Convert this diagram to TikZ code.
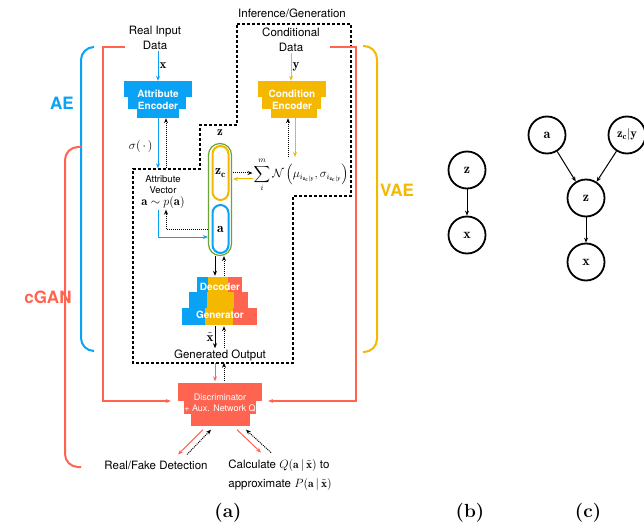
\documentclass[tikz,border=0pt]{standalone}
\usepackage{amsmath,amssymb}
\usepackage{fontspec}
\setsansfont{TeX Gyre Heros}
\usetikzlibrary{arrows.meta,positioning,calc}
\definecolor{aeblue}{HTML}{0AA2F5}
\definecolor{vaeyellow}{HTML}{F5B800}
\definecolor{ganred}{HTML}{FF6450}
\definecolor{capgreen}{HTML}{6AA534}
\tikzset{
    diag label/.style={font=\sffamily\fontsize{11.5}{14.5}\selectfont, align=center, inner sep=1pt},
    diag small/.style={font=\sffamily\fontsize{9.5}{11}\selectfont, align=center, inner sep=1pt},
    diag block/.style={font=\sffamily\bfseries\fontsize{10}{12}\selectfont, text=white, align=center, inner sep=0pt},
    diag disc/.style={font=\sffamily\fontsize{9}{11}\selectfont, text=white, align=center, inner sep=0pt},
    diag part/.style={font=\sffamily\bfseries\fontsize{17}{20}\selectfont},
    diag caption/.style={font=\rmfamily\bfseries\fontsize{19}{22}\selectfont},
    diag math/.style={font=\fontsize{13}{15}\selectfont, inner sep=1pt},
    diag capsule/.style={draw, rounded corners=8pt, line width=2pt, minimum width=16pt, inner sep=0pt, font=\fontsize{13.5}{15}\selectfont},
    diag rv/.style={circle, draw, line width=1.8pt, minimum size=37pt, inner sep=0pt, font=\fontsize{14}{16}\selectfont},
    diag arrow/.style={-{Stealth[length=5pt,width=4pt]}, line width=1pt},
    diag back/.style={-{Stealth[length=5pt,width=4pt]}, densely dotted, line width=1pt},
    diag brace/.style={line width=2pt, rounded corners=13pt},
    diag region/.style={dash pattern=on 3pt off 2pt, line width=1.3pt}
}

\begin{document}
\begin{tikzpicture}[x=1pt, y=-1pt]
\path[use as bounding box, fill=white] (0,0) rectangle (644,529);

% inference / generation region
\node[diag label] (inflab) at (292,13) {Inference/Generation};
\draw[diag region] (237,24) -- (351,24) -- (351,196) -- (293,196) -- (293,363)
    -- (133,363) -- (133,169) -- (200,169) -- (200,125) -- (237,125) -- cycle;

% model families
\draw[diag brace, aeblue] (93,47) -- (81,47) -- (81,351) -- (93,351);
\draw[diag brace, ganred] (81,147) -- (65,147) -- (65,467) -- (81,467);
\draw[diag brace, vaeyellow] (363,46) -- (377,46) -- (377,352) -- (363,352);
\node[diag part, text=aeblue] (aelab) at (62,103) {AE};
\node[diag part, text=ganred] (ganlab) at (48,297) {cGAN};
\node[diag part, text=vaeyellow] (vaelab) at (397,190) {VAE};

% encoders
\foreach \l/\r/\t/\b in {124/192/81/97, 128/186/97/109, 137/179/109/118}
    \fill[aeblue] (\l,\t) rectangle (\r,\b);
\foreach \l/\r/\t/\b in {258/326/81/97, 262/321/97/109, 271/317/109/118}
    \fill[vaeyellow] (\l,\t) rectangle (\r,\b);
\node[diag block, minimum width=68pt, minimum height=37pt] (attenc) at (158,99.5) {Attribute\\Encoder};
\node[diag block, minimum width=68pt, minimum height=37pt] (condenc) at (292,99.5) {Condition\\Encoder};

\node[diag label] (realin) at (155,38) {Real Input\\Data};
\node[diag label] (conddata) at (291,40) {Conditional\\Data};
\draw[diag arrow, aeblue] (attenc.north |- realin.south) -- (attenc.north)
    node[midway, right, black, diag math] {$\mathbf{x}$};
\draw[diag arrow, vaeyellow] (conddata.south) -- (conddata.south |- condenc.north)
    node[midway, right, black, diag math] {$\mathbf{y}$};

% attribute vector
\node[diag small] (attvec) at (163,192) {Attribute\\Vector\\[1pt]{\rmfamily\fontsize{12.5}{13}\selectfont$\mathbf{a}\sim p(\mathbf{a})$}};
\draw[diag arrow, aeblue, shorten >=6pt] (attenc.south) -- (attenc.south |- attvec.north)
    node[midway, left=4pt, black, diag math] {$\sigma(\,\cdot\,)$};
\draw[diag back, shorten <=6pt] ($(attenc.south |- attvec.north)+(8,0)$) -- ($(attenc.south)+(8,0)$);

% latent capsule
\node[diag capsule, draw=capgreen, line width=1.2pt, minimum width=23pt, minimum height=112pt, rounded corners=11.5pt] (zcap) at (220,199.5) {};
\node[diag capsule, draw=vaeyellow, minimum height=54pt] (zc) at (220.5,173) {$\mathbf{z_c}$};
\node[diag capsule, draw=aeblue, minimum height=48pt] (za) at (220.5,229) {$\mathbf{a}$};
\node[diag math] (zlab) at (220,133) {$\mathbf{z}$};

\node[diag math, font=\fontsize{11.5}{14}\selectfont] (mix) at (301,175) {$\displaystyle\sum_{i}^{m}\mathcal{N}\,\Bigl(\mu_{i_{\mathbf{z_c}|\mathbf{y}}},\sigma_{i_{\mathbf{z_c}|\mathbf{y}}}\Bigr)$};
\draw[diag back] ($(zc.center -| zcap.east)+(1,0)$) -- (zc.center -| mix.west);
\draw[diag arrow, vaeyellow] ($(zc.center -| mix.west)+(0,6)$) -- ($(zc.center -| zcap.east)+(1,6)$);
\draw[diag arrow, vaeyellow] ($(condenc.south)+(3,0)$) -- ($(condenc.south |- mix.north)+(3,0)$);
\draw[diag back] ($(condenc.south |- mix.north)+(-4,0)$) -- ($(condenc.south)+(-4,0)$);

\draw[diag arrow, aeblue] ($(attvec.south)+(-5,0)$) |- ($(za.center -| zcap.west)+(0,8)$);
\draw[diag back] (za.center -| zcap.west) -| ($(attvec.south)+(3,0)$);

% decoder / generator
\foreach \l/\r/\t/\b in {197/208/277/292, 189/207/292/308, 182/205/308/325}
    \fill[aeblue] (\l,\t) rectangle (\r,\b);
\foreach \l/\r/\t/\b in {208/228/277/292, 207/234/292/308, 205/233/308/325}
    \fill[vaeyellow] (\l,\t) rectangle (\r,\b);
\foreach \l/\r/\t/\b in {228/242/277/292, 234/248/292/308, 233/257/308/325}
    \fill[ganred] (\l,\t) rectangle (\r,\b);
\node[diag block, minimum width=76pt, minimum height=48pt] (decgen) at (220,301) {Decoder\\[16pt]Generator};
\draw[diag arrow] ($(zcap.south)+(-5,0)$) -- ($(decgen.north)+(-5,-1)$);
\draw[diag back] ($(decgen.north)+(4,-1)$) -- ($(zcap.south)+(4,0)$);

\node[diag label] (genout) at (220,355) {Generated Output};
\draw[diag arrow] ($(decgen.south)+(-5,1)$) -- ($(genout.north)+(-5,0)$)
    node[midway, left, diag math] {$\tilde{\mathbf{x}}$};
\draw[diag back] ($(genout.north)+(4,0)$) -- ($(decgen.south)+(4,1)$);

% discriminator
\foreach \l/\r/\t/\b in {178/262/383/401, 184/256/401/414, 191/250/414/426}
    \fill[ganred] (\l,\t) rectangle (\r,\b);
\node[diag disc, minimum width=84pt, minimum height=43pt] (disc) at (220,403) {Discriminator\\+ Aux. Network Q};
\draw[diag arrow, ganred] ($(genout.south)+(-5,1)$) -- ($(disc.north)+(-5,0)$);
\draw[diag back] ($(disc.north)+(4,0)$) -- ($(genout.south)+(4,1)$);

\coordinate (ganL) at (125,47);
\coordinate (ganR) at (330,47);
\draw[diag arrow, ganred, line width=1.3pt] (ganL) -- ++(-22,0) |- ($(disc.west)+(-7,-2)$);
\draw[diag arrow, ganred, line width=1.3pt] (ganR) -- ++(26,0) |- ($(disc.east)+(6,-2)$);

\node[diag label] (realfake) at (156,465) {Real/Fake Detection};
\node[diag label, align=left] (calcq) at (280,475) {Calculate $Q(\mathbf{a}\,|\,\tilde{\mathbf{x}})$ to\\[4pt]approximate $P(\mathbf{a}\,|\,\tilde{\mathbf{x}})$};
\draw[diag arrow, ganred] ($(disc.south)+(-17,5)$) -- ($(realfake.north)+(22,-5)$);
\draw[diag back] ($(realfake.north)+(31,-5)$) -- ($(disc.south)+(-9,5)$);
\draw[diag arrow, ganred] ($(disc.south)+(17,5)$) -- ($(calcq.north)+(-19,-6)$);
\draw[diag back] ($(calcq.north)+(-9,-6)$) -- ($(disc.south)+(26,5)$);

% graphical models
\node[diag rv] (bz) at (467,170) {$\mathbf{z}$};
\node[diag rv] (bx) at (467,235) {$\mathbf{x}$};
\draw[diag arrow] (bz) -- (bx);

\node[diag rv] (ca) at (547,135) {$\mathbf{a}$};
\node[diag rv, font=\fontsize{12.5}{14}\selectfont] (czy) at (627,135) {$\mathbf{z_c}|\mathbf{y}$};
\node[diag rv] (cz) at (586,198) {$\mathbf{z}$};
\node[diag rv] (cx) at (586,262) {$\mathbf{x}$};
\draw[diag arrow] (ca) -- (cz);
\draw[diag arrow] (czy) -- (cz);
\draw[diag arrow] (cz) -- (cx);

% panel captions
\node[diag caption] (capa) at (228,513) {(a)};
\node[diag caption] (capb) at (470,513) {(b)};
\node[diag caption] (capc) at (588,513) {(c)};
\end{tikzpicture}
\end{document}
